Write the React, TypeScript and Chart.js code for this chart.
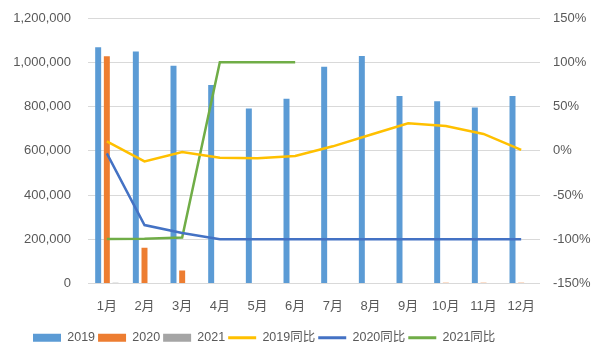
import React, { useEffect, useRef } from "react";
import { Chart, registerables } from "chart.js";

Chart.register(...registerables);

const categories = ["1月", "2月", "3月", "4月", "5月", "6月", "7月", "8月", "9月", "10月", "11月", "12月"];
const sales2019 = [1068000, 1049000, 984000, 897000, 791000, 835000, 980000, 1028000, 848000, 824000, 796000, 848000];
const sales2020 = [1027000, 162000, 59000, 0, 0, 0, 0, 0, 0, 3000, 3000, 3000];
const sales2021 = [3000, 2000, 2000, 2000, 2000, 2000, null, null, null, null, null, null];
const yoy2019 = [0.105, -0.12, -0.015, -0.08, -0.085, -0.06, 0.05, 0.18, 0.31, 0.28, 0.19, 0.01];
const yoy2020 = [-0.03, -0.84, -0.93, -1, -1, -1, -1, -1, -1, -1, -1, -1];
const yoy2021 = [-0.996, -0.995, -0.98, 1, 1, 1, null, null, null, null, null, null];
const seriesLabels = ["2019", "2020", "2021", "2019同比", "2020同比", "2021同比"];

const FONT = "'Liberation Sans', 'Noto Sans CJK SC', sans-serif";
const TEXT = "#595959";

const legendShift = {
  id: "legendShift",
  afterLayout(chart: any) {
    if (chart.legend) {
      chart.legend.left += 30;
      chart.legend.right += 30;
    }
  },
};

export default function App() {
  const ref = useRef<HTMLCanvasElement | null>(null);

  useEffect(() => {
    if (!ref.current) return;
    const chart = new Chart(ref.current, {
      type: "bar",
      data: {
        labels: categories,
        datasets: [
          { type: "bar", label: seriesLabels[0], data: sales2019, backgroundColor: "#5B9BD5", yAxisID: "y", order: 1, barPercentage: 0.69, categoryPercentage: 0.69 },
          { type: "bar", label: seriesLabels[1], data: sales2020, backgroundColor: "#ED7D31", yAxisID: "y", order: 1, barPercentage: 0.69, categoryPercentage: 0.69 },
          { type: "bar", label: seriesLabels[2], data: sales2021, backgroundColor: "#A5A5A5", yAxisID: "y", order: 1, barPercentage: 0.69, categoryPercentage: 0.69 },
          { type: "line", label: seriesLabels[3], data: yoy2019, borderColor: "#FFC000", backgroundColor: "#FFC000", borderWidth: 2.5, pointRadius: 0, tension: 0, yAxisID: "y1", order: 0 },
          { type: "line", label: seriesLabels[4], data: yoy2020, borderColor: "#4472C4", backgroundColor: "#4472C4", borderWidth: 2.5, pointRadius: 0, tension: 0, yAxisID: "y1", order: 0 },
          { type: "line", label: seriesLabels[5], data: yoy2021, borderColor: "#70AD47", backgroundColor: "#70AD47", borderWidth: 2.5, pointRadius: 0, tension: 0, yAxisID: "y1", order: 0 },
        ] as any,
      },
      options: {
        animation: false,
        responsive: false,
        devicePixelRatio: 1,
        layout: { padding: { left: 0, right: 0, top: 18, bottom: 0 } },
        plugins: {
          tooltip: { enabled: false },
          legend: {
            position: "bottom",
            align: "start",
            labels: {
              usePointStyle: true,
              pointStyleWidth: 28,
              boxHeight: 8,
              padding: 3,
              color: TEXT,
              font: { size: 12.5, family: FONT },
              sort: (a: any, b: any) => a.datasetIndex - b.datasetIndex,
              generateLabels: (c: any) => {
                const items = (Chart.defaults.plugins.legend.labels as any).generateLabels(c);
                return items.map((it: any) => {
                  const ds: any = c.data.datasets[it.datasetIndex];
                  if (ds.type === "line") {
                    it.pointStyle = "line";
                    it.lineWidth = 3;
                    it.strokeStyle = ds.borderColor;
                  } else {
                    it.pointStyle = "rect";
                    it.lineWidth = 0;
                    it.fillStyle = ds.backgroundColor;
                  }
                  return it;
                });
              },
            },
          },
        },
        scales: {
          x: {
            grid: { display: false, drawTicks: false },
            border: { display: false },
            ticks: { color: TEXT, font: { size: 13, family: FONT }, padding: 15, maxRotation: 0, autoSkip: false },
            afterFit: (s: any) => { s.height = 45; },
          },
          y: {
            position: "left",
            min: 0,
            max: 1200000,
            ticks: {
              stepSize: 200000,
              color: TEXT,
              font: { size: 13, family: FONT },
              padding: 17,
              callback: (v: any) => Number(v).toLocaleString("en-US"),
            },
            grid: { color: "#D9D9D9", lineWidth: 1, drawTicks: false },
            border: { display: false },
            afterFit: (s: any) => { s.width = 88; s.paddingTop = 8; s.paddingBottom = 8; },
          },
          y1: {
            position: "right",
            min: -1.5,
            max: 1.5,
            ticks: {
              stepSize: 0.5,
              color: TEXT,
              font: { size: 13, family: FONT },
              padding: 13,
              callback: (v: any) => Math.round(Number(v) * 100) + "%",
            },
            grid: { display: false, drawTicks: false },
            border: { display: false },
            afterFit: (s: any) => { s.width = 60; s.paddingTop = 8; s.paddingBottom = 8; },
          },
        },
      } as any,
      plugins: [legendShift],
    });
    return () => chart.destroy();
  }, []);

  return (
    <div style={{ position: "absolute", left: 0, top: 0, width: 600, height: 354, background: "#fff" }}>
      <canvas ref={ref} width={600} height={354} style={{ width: 600, height: 354, display: "block" }} />
    </div>
  );
}
